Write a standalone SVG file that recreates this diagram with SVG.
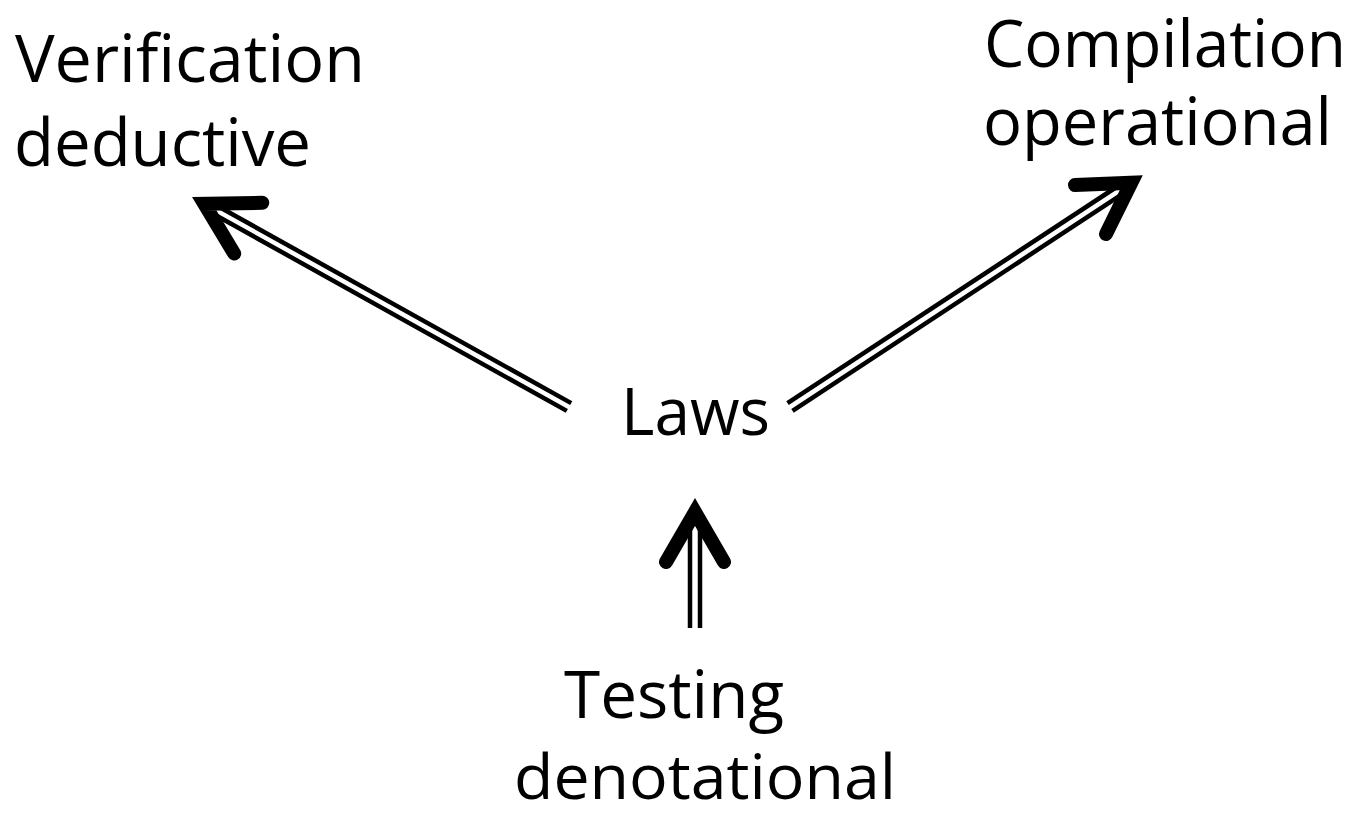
<svg xmlns="http://www.w3.org/2000/svg" width="1355" height="813" viewBox="0 0 1355 813">
<style>
text{font-family:"Open Sans","Liberation Sans",sans-serif;font-size:65px;fill:#000}
.shaft{stroke:#000;stroke-width:4.5;fill:none}
.head{stroke:#000;stroke-width:14;fill:none;stroke-linecap:round;stroke-linejoin:miter;stroke-miterlimit:10}
</style>
<rect width="1355" height="813" fill="#fff"/>
<g id="verification"><text x="15" y="82" textLength="350" lengthAdjust="spacingAndGlyphs">Verification</text><text x="14" y="166" textLength="297" lengthAdjust="spacingAndGlyphs">deductive</text></g>
<g id="compilation"><text x="984" y="67" textLength="362" lengthAdjust="spacingAndGlyphs">Compilation</text><text x="983" y="145" textLength="349" lengthAdjust="spacingAndGlyphs">operational</text></g>
<g id="laws"><text x="621" y="435" textLength="149" lengthAdjust="spacingAndGlyphs">Laws</text></g>
<g id="testing"><text x="564" y="718" textLength="220" lengthAdjust="spacingAndGlyphs">Testing</text><text x="514" y="799" textLength="382" lengthAdjust="spacingAndGlyphs" style="font-size:63px">denotational</text></g>
<g id="connectors">
<g id="to-verification"><line class="shaft" x1="571.2" y1="403.1" x2="217" y2="205.7"/><line class="shaft" x1="566.8" y1="410.9" x2="212.6" y2="213.5"/><polyline class="head" points="234.2,253.5 204.3,203.8 262.3,202.8"/></g>
<g id="to-compilation"><line class="shaft" x1="787.5" y1="403.2" x2="1118.8" y2="185.5"/><line class="shaft" x1="792.5" y1="410.8" x2="1123.8" y2="193.1"/><polyline class="head" points="1075,185 1131.3,182.7 1106,234"/></g>
<g id="to-laws"><line class="shaft" x1="690" y1="628" x2="690" y2="524"/><line class="shaft" x1="700" y1="628" x2="700" y2="524"/><polyline class="head" points="666,562 695,512 724,562"/></g>
</g>
</svg>
